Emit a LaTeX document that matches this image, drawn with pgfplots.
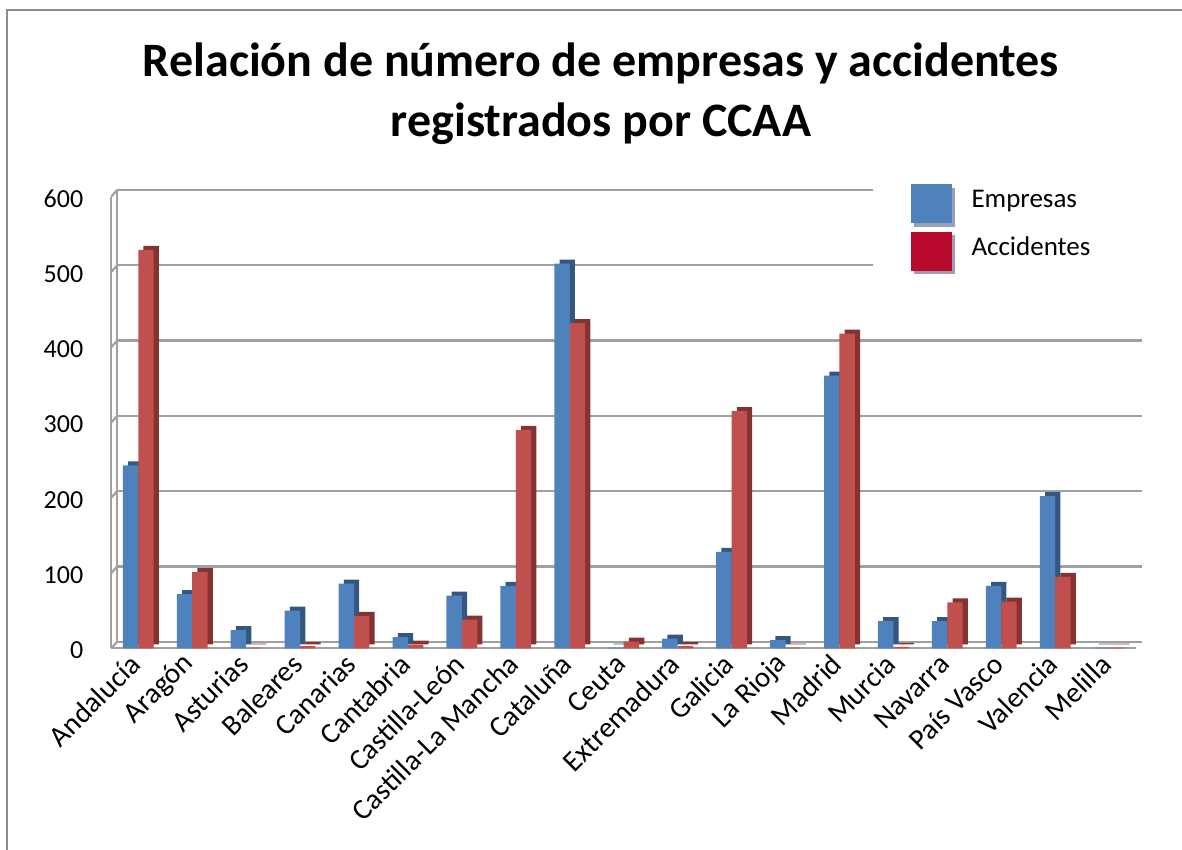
\documentclass[border=0pt]{standalone}
\usepackage{fontspec}
\setmainfont{Carlito}
\usepackage{pgfplots}
\usepackage{pgfplotstable}
\pgfplotsset{compat=1.18}

\definecolor{barblue}{HTML}{4F81BD}
\definecolor{barbluedark}{HTML}{35577F}
\definecolor{barred}{HTML}{C0504D}
\definecolor{barreddark}{HTML}{843331}
\definecolor{legred}{HTML}{B90A2E}
\definecolor{legshadow}{HTML}{96A1B3}
\definecolor{gridgray}{HTML}{A0A0A0}
\definecolor{framegray}{HTML}{8C8C8C}

% Empresas / Accidentes por comunidad
\pgfplotstableread{
idx emp acc
0  243 529
1  72  101
2  24  1
3  50  3
4  86  43
5  15  5
6  70  38
7  83  290
8  511 432
9  1   9
10 13  3
11 128 315
12 11  1
13 362 418
14 36  2
15 36  61
16 83  62
17 202 95
18 1   1
}\datos

\begin{document}
\begin{tikzpicture}
\useasboundingbox (0,0) rectangle (591bp,425bp);
\draw[framegray, line width=1bp] (3.5bp,-5bp) -- (3.5bp,420bp) -- (600bp,420bp);

\node[font=\fontsize{24bp}{28bp}\selectfont\bfseries, anchor=base] at (300.5bp,386.5bp)
  {Relación de número de empresas y accidentes};
\node[font=\fontsize{24bp}{28bp}\selectfont\bfseries, anchor=base] at (300.5bp,356.5bp)
  {registrados por CCAA};

\begin{axis}[
    at={(55.65bp,100.85bp)}, anchor=south west,
    scale only axis, width=512.4bp, height=225.9bp,
    xmin=-0.5, xmax=18.5, ymin=0, ymax=600,
    ytick={0,100,...,600},
    xtick={0,...,18},
    xticklabels={Andalucía,Aragón,Asturias,Baleares,Canarias,Cantabria,Castilla-León,Castilla-La Mancha,Cataluña,Ceuta,Extremadura,Galicia,La Rioja,Madrid,Murcia,Navarra,País Vasco,Valencia,Melilla},
    ybar, bar width=7.7bp,
    ymajorgrids,
    grid style={gridgray, line width=1.1bp, transform canvas={xshift=3bp, yshift=3.3bp}},
    axis x line*=bottom, axis y line*=left,
    axis line style={gridgray, line width=1.1bp},
    major tick length=0pt,
    tick label style={black},
    yticklabel style={font=\fontsize{13bp}{15bp}\selectfont, xshift=-10.5bp, yshift=-1bp},
    xticklabel style={font=\fontsize{14.5bp}{16bp}\selectfont, yshift=-3bp, xshift=1bp, rotate=45, anchor=east},
    /pgf/number format/assume math mode=true,
    clip=false,
    legend style={at={(0.7424,1.0343)}, anchor=north west, draw=none, fill=white,
        inner xsep=19bp, inner ysep=1.5bp, row sep=2.6bp, column sep=8.5bp,
        font=\fontsize{13.5bp}{15bp}\selectfont,
        nodes={inner sep=0pt, text width=80bp, align=left}},
    legend cell align=left,
]
% pared del fondo (efecto 3D)
\draw[gridgray, line width=1.1bp, transform canvas={xshift=3bp, yshift=3.3bp}]
    (axis cs:-0.5,0) -- (axis cs:-0.5,600);
\pgfplotsinvokeforeach{0,100,...,600}{
  \draw[gridgray, line width=1.1bp] (axis cs:-0.5,#1) -- ++(3bp,3.3bp);
}
% caras laterales (efecto 3D)
\addplot[fill=barbluedark, draw=none, bar shift=-3.85bp, forget plot,
    transform canvas={xshift=2.6bp, yshift=2bp}] table[x=idx, y=emp] {\datos};
\addplot[fill=barreddark, draw=none, bar shift=3.85bp, forget plot,
    transform canvas={xshift=2.6bp, yshift=2bp}] table[x=idx, y=acc] {\datos};
% caras frontales
\addplot[fill=barblue, draw=none, bar shift=-3.85bp, forget plot] table[x=idx, y=emp] {\datos};
\addplot[fill=barred, draw=none, bar shift=3.85bp, forget plot] table[x=idx, y=acc] {\datos};

\addlegendimage{legend image code/.code={
    \fill[legshadow] (1.6bp,-12.6bp) rectangle (21.6bp,6.4bp);
    \fill[barblue] (0bp,-11bp) rectangle (20bp,8bp);}}
\addlegendentry{Empresas}
\addlegendimage{legend image code/.code={
    \fill[legshadow] (1.6bp,-12.6bp) rectangle (21.6bp,6.4bp);
    \fill[legred] (0bp,-11bp) rectangle (20bp,8bp);}}
\addlegendentry{Accidentes}
\end{axis}
\end{tikzpicture}
\end{document}
